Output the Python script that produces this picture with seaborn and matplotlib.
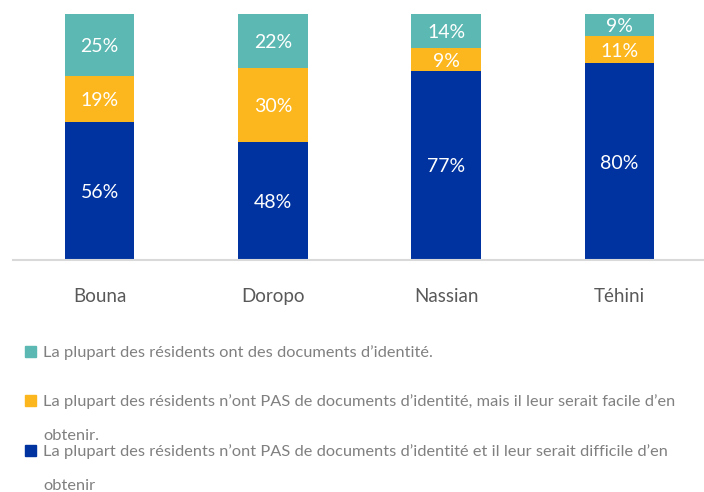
import numpy as np
import pandas as pd
import matplotlib
matplotlib.use("Agg")
import matplotlib.pyplot as plt
from matplotlib.patches import Rectangle
import seaborn as sns

# ------------------------------
# Data
# ------------------------------
communes = ["Bouna", "Doropo", "Nassian", "Téhini"]
difficile = [56, 48, 77, 80]   # no ID, hard to obtain (blue)
facile = [19, 30, 9, 11]       # no ID, easy to obtain (orange)
ont_docs = [25, 22, 14, 9]     # have ID (teal)

legend_labels = [
    "La plupart des résidents ont des documents d’identité.",
    "La plupart des résidents n’ont PAS de documents d’identité, mais il leur serait facile d’en\nobtenir.",
    "La plupart des résidents n’ont PAS de documents d’identité et il leur serait difficile d’en\nobtenir",
]

c_blue = "#0033A0"
c_orange = "#FDB71E"
c_teal = "#5CB8B2"

df = pd.DataFrame({"commune": communes, "difficile": difficile,
                   "facile": facile, "ont_docs": ont_docs})
df["cum_facile"] = df["difficile"] + df["facile"]
df["cum_total"] = df["cum_facile"] + df["ont_docs"]

# ------------------------------
# Figure
# ------------------------------
sns.set_theme(style="white")
plt.rcParams["font.family"] = ["Lato", "DejaVu Sans"]

W, H = 704, 492
fig = plt.figure(figsize=(W / 100, H / 100), dpi=100)
ax = fig.add_axes([13 / W, (H - 260) / H, 693 / W, 246 / H])

# stacked bars: draw totals first, then overlay lower parts
sns.barplot(data=df, x="commune", y="cum_total", color=c_teal, width=0.4,
            linewidth=0, saturation=1, ax=ax)
sns.barplot(data=df, x="commune", y="cum_facile", color=c_orange, width=0.4,
            linewidth=0, saturation=1, ax=ax)
sns.barplot(data=df, x="commune", y="difficile", color=c_blue, width=0.4,
            linewidth=0, saturation=1, ax=ax)

# value labels
for i, row in df.iterrows():
    ax.text(i, row["difficile"] / 2, f"{row['difficile']}%", ha="center",
            va="center_baseline", color="white", fontsize=14)
    ax.text(i, row["difficile"] + row["facile"] / 2, f"{row['facile']}%",
            ha="center", va="center_baseline", color="white", fontsize=14)
    ax.text(i, row["cum_facile"] + row["ont_docs"] / 2, f"{row['ont_docs']}%",
            ha="center", va="center_baseline", color="white", fontsize=14)

ax.set_xlim(-0.5, 3.5)
ax.set_ylim(0, 100)
ax.set_xlabel("")
ax.set_ylabel("")
ax.set_yticks([])
for s in ["top", "left", "right"]:
    ax.spines[s].set_visible(False)
ax.spines["bottom"].set_color("#D9D9D9")
ax.spines["bottom"].set_linewidth(1.5)
ax.tick_params(axis="x", length=0, pad=20, labelsize=13.5, labelcolor="#595959")

# legend drawn by hand (wrapped entries with wide line spacing)
leg_colors = [c_teal, c_orange, c_blue]
leg_y = [351, 400, 450]
line_gap = 34
for lab, col, y in zip(legend_labels, leg_colors, leg_y):
    fig.patches.append(Rectangle((25 / W, (H - y - 5.5) / H), 11 / W, 11 / H,
                                 transform=fig.transFigure, color=col))
    for k, line in enumerate(lab.split("\n")):
        fig.text(43 / W, (H - y - k * line_gap) / H, line, ha="left",
                 va="center_baseline", fontsize=11.8, color="#808080")

fig.savefig("out.png", dpi=100)
